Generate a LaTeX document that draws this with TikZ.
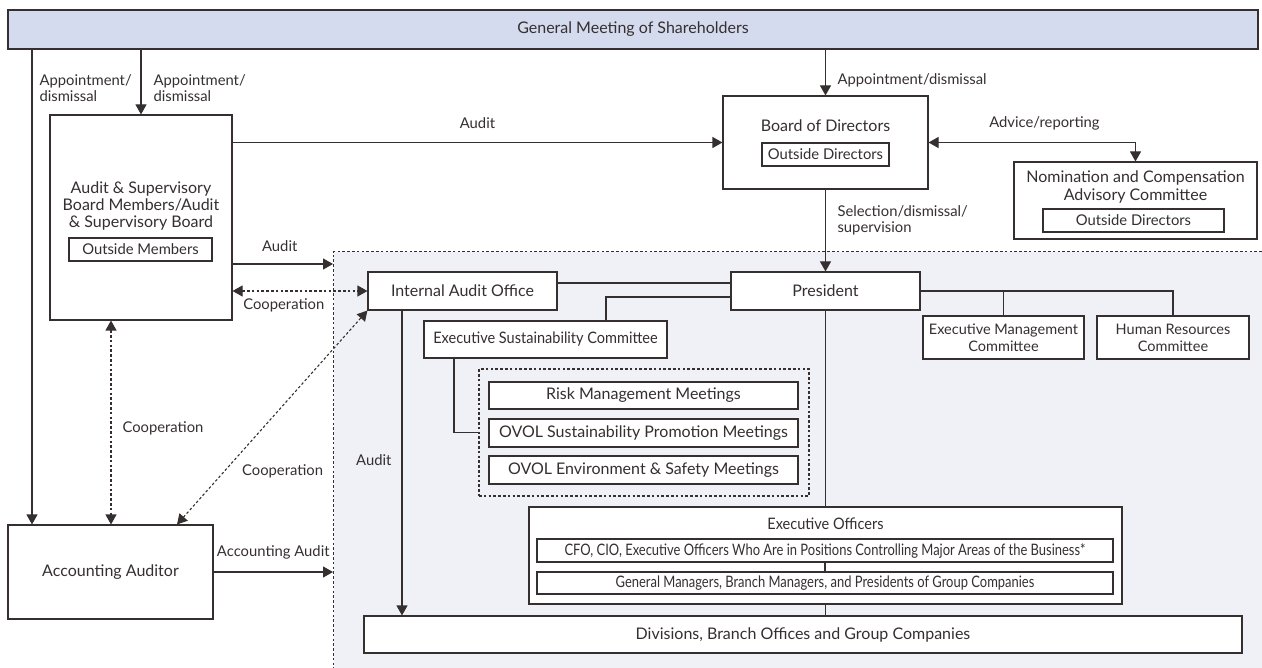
\documentclass[tikz,border=0pt]{standalone}
\usepackage{fontspec}
\setmainfont{Lato}
\newfontfamily\narrowfont[FakeStretch=0.82]{Lato}
\newfontfamily\semifont[FakeStretch=0.92]{Lato}
\usetikzlibrary{arrows.meta,positioning}

\definecolor{ink}{HTML}{352F30}
\definecolor{bannerblue}{HTML}{D5DBEE}
\definecolor{areagray}{HTML}{F0F1F7}

\begin{document}
\begin{tikzpicture}[x=1pt, y=-1pt, line width=1.1pt, color=ink, >={Triangle[length=10pt,width=11pt]}, every node/.style={font=\fontsize{16}{17}\selectfont}]

\tikzstyle{box}=[draw=ink, fill=white, rectangle, inner sep=0pt, align=center]
\tikzstyle{inbox}=[box, font=\fontsize{14.8}{16}\selectfont]
\tikzstyle{small}=[font=\fontsize{14.5}{17}\selectfont]
\tikzstyle{semi}=[font=\semifont\fontsize{15.8}{17}\selectfont]
\tikzstyle{slim}=[font=\narrowfont\fontsize{15.8}{17}\selectfont]
\tikzstyle{lbl}=[font=\fontsize{14.8}{16}\selectfont, align=left, inner sep=2pt]
\tikzstyle{dots}=[dash pattern=on 2.6pt off 2.2pt]

\useasboundingbox (0,0) rectangle (1262,668);
\clip (0,0) rectangle (1262,668);

\node[draw, dots, fill=areagray, minimum width=945pt, minimum height=435pt, anchor=north west] (ops) at (333,251) {};

\node[box, fill=bannerblue, minimum width=1250pt, minimum height=39pt] (gms) at (633,29.5) {General Meeting of Shareholders};

\node[box, minimum width=182pt, minimum height=205pt] (asb) at (141,217.5) {};
\node[align=center] (asbname) at (141,205.5) {Audit \& Supervisory\\Board Members/Audit\\\& Supervisory Board};
\node[inbox, minimum width=143pt, minimum height=23pt] (asbout) at (140.5,249.5) {Outside Members};

\node[box, minimum width=205pt, minimum height=94pt] (acc) at (110.5,572) {Accounting Auditor};

\node[box, minimum width=205pt, minimum height=93pt] (bod) at (825.5,142.5) {};
\node (bodname) at (825.5,126) {Board of Directors};
\node[inbox, minimum width=127pt, minimum height=23pt] (bodout) at (825.5,154.5) {Outside Directors};

\node[box, minimum width=243pt, minimum height=77pt] (nca) at (1135.5,200.5) {};
\node[align=center, font=\fontsize{16}{18}\selectfont] (ncaname) at (1135.5,187) {Nomination and Compensation\\Advisory Committee};
\node[inbox, minimum width=181pt, minimum height=23pt] (ncaout) at (1133.5,220.5) {Outside Directors};

\node[box, minimum width=189pt, minimum height=38pt] (iao) at (462.5,291) {Internal Audit Office};
\node[box, minimum width=189pt, minimum height=38pt] (pres) at (825.5,291) {President};
\node[box, semi, minimum width=243pt, minimum height=37pt] (esc) at (545.5,339.5) {Executive Sustainability Committee};

\node[draw, dots, minimum width=330pt, minimum height=127pt] (mtg) at (644,432.5) {};
\node[box, minimum width=309pt, minimum height=27pt] (risk) at (643.5,395.5) {Risk Management Meetings};
\node[box, minimum width=309pt, minimum height=28pt] (sust) at (643.5,433) {OVOL Sustainability Promotion Meetings};
\node[box, minimum width=309pt, minimum height=28pt] (env) at (643.5,470) {OVOL Environment \& Safety Meetings};

\node[box, small, minimum width=161pt, minimum height=43pt] (emc) at (1003.5,337.5) {Executive Management\\Committee};
\node[box, small, minimum width=152pt, minimum height=43pt] (hrc) at (1173,337.5) {Human Resources\\Committee};

\node[box, minimum width=878pt, minimum height=37pt] (div) at (803,634.5) {Divisions, Branch Offices and Group Companies};

\draw (pres.south) -- (pres.south |- div.north);

\node[box, minimum width=593pt, minimum height=97pt] (exo) at (825.5,555.5) {};
\node[semi] (exoname) at (825.5,524) {Executive Officers};
\node[box, slim, minimum width=576pt, minimum height=23pt] (cfo) at (825,550.5) {CFO, CIO, Executive Officers Who Are in Positions Controlling Major Areas of the Business*};
\node[box, slim, minimum width=576pt, minimum height=22pt] (gm) at (825,583) {General Managers, Branch Managers, and Presidents of Group Companies};
\draw (cfo.south) -- (gm.north);

\coordinate (lft) at (32,0);
\coordinate (aud) at ([yshift=-46.5pt]asb.east);
\coordinate (cv) at ([xshift=-30pt]asb.south);
\coordinate (ia) at ([xshift=-60.5pt]iao.south);

% appointments from the shareholders
\draw[->] (gms.south -| lft) -- node[lbl, right, pos=0.082, xshift=5pt] {Appointment/\\dismissal} (acc.north -| lft);
\draw[->] (gms.south -| asb.north) -- node[lbl, right, pos=0.59, xshift=10pt] {Appointment/\\dismissal} (asb.north);
\draw[->] (gms.south -| bod.north) -- node[lbl, right, pos=0.68, xshift=9.5pt] {Appointment/dismissal} (bod.north);

% audits
\draw[->] (asb.east |- bod.west) -- node[lbl, above=11pt] {Audit} (bod.west);
\draw[->] (aud) -- node[lbl, above=10pt, pos=0.47] {Audit} (aud -| ops.west);
\draw[->] (acc.east) -- node[lbl, above=10pt] {Accounting Audit} (acc.east -| ops.west);
\draw[->] (ia) -- node[lbl, left, pos=0.49, xshift=-8pt] {Audit} (ia |- div.north);

% cooperation
\draw[<->, dots] (asb.east |- iao.west) -- node[lbl, below=5pt, pos=0.38] {Cooperation} (iao.west);
\draw[<->, dots] (cv) -- node[lbl, right, pos=0.53, xshift=9pt] {Cooperation} (cv |- acc.north);
\draw[<->, dots] ([xshift=66.5pt]acc.north) -- node[lbl, anchor=west, pos=0.25, xshift=15pt] {Cooperation} (iao.south west);

% board and president
\draw[->] (bod.south) -- node[lbl, right, pos=0.37, xshift=9.5pt] {Selection/dismissal/\\supervision} (pres.north);
\draw[<->] (bod.east) -| node[lbl, above=10pt, pos=0.28] {Advice/reporting} (nca.north);
\draw ([yshift=8pt]iao.east) -- ([yshift=8pt]pres.west);
\draw ([xshift=60.5pt]esc.north) |- ([yshift=-6pt]pres.west);
\draw ([xshift=-91.5pt]esc.south) |- (mtg.west);
\draw (pres.east) -| (hrc.north);
\draw (emc.north) -- (emc.north |- pres.east);

\end{tikzpicture}
\end{document}
